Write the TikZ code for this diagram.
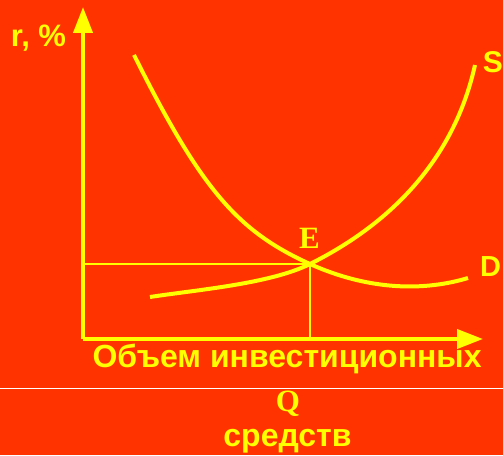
\documentclass[tikz,border=0pt]{standalone}
\usepackage{fontspec}
\setmainfont{Liberation Sans}
\newfontfamily\serifbold{Liberation Serif}
\usetikzlibrary{arrows.meta}
\definecolor{bgred}{RGB}{255,51,0}
\definecolor{ylw}{RGB}{255,255,0}
\tikzset{
  axis/.style={ylw, line width=4pt, -{Triangle[length=26pt,width=19pt]}},
  curve/.style={ylw, line width=4pt},
  guide/.style={ylw, line width=2.5pt},
  sanslbl/.style={text=ylw, font=\fontsize{32}{36}\selectfont\bfseries, inner sep=0pt, anchor=base},
  seriflbl/.style={text=ylw, font=\fontsize{31}{34}\selectfont\serifbold\bfseries, inner sep=0pt, anchor=base},
}
\begin{document}
\begin{tikzpicture}[x=1pt,y=1pt]
\useasboundingbox (0,0) rectangle (503,455);
\fill[bgred] (0,0) rectangle (503,455);
\draw[white, line width=1pt] (0,66) -- (503,66);
% coordinates
\coordinate (O) at (83,116);
\coordinate (Ytip) at (83,448);
\coordinate (Xtip) at (483,116);
\coordinate (E) at (310,191);
\coordinate (Ey) at (83,191);
\coordinate (Ex) at (310,116);
\coordinate (Dstart) at (134,400);
\coordinate (Dend) at (468,177);
\coordinate (Sstart) at (150,158);
\coordinate (Send) at (475,390);
% axes
\draw[axis] (O) -- (Ytip);
\draw[axis] (O) -- (Xtip);
% guides
\draw[guide] (Ey) -- (E);
\draw[guide] (E) -- (Ex);
% curves
\draw[curve] (Dstart) .. controls (201,266) and (237,224) .. (E)
  .. controls (370,164) and (425,164) .. (Dend);
\draw[curve] (Sstart) .. controls (195,165) and (270,171) .. (E)
  .. controls (399.7,235.9) and (455.8,303.5) .. (Send);
% labels
\node[sanslbl, font=\fontsize{31}{34}\selectfont\bfseries] (rlbl) at (38.5,408) {r, \%};
\node[sanslbl, font=\fontsize{30}{34}\selectfont\bfseries, anchor=base east] (slbl) at (503,382) {S};
\node[sanslbl, font=\fontsize{29}{34}\selectfont\bfseries, anchor=base west] (dlbl) at (480,178) {D};
\node[seriflbl] (elbl) at (309.5,206) {E};
\node[sanslbl] (xlbl1) at (287,87) {Объем инвестиционных};
\node[seriflbl] (qlbl) at (288,43) {Q};
\node[sanslbl] (xlbl2) at (287.5,9) {средств};
\end{tikzpicture}
\end{document}
